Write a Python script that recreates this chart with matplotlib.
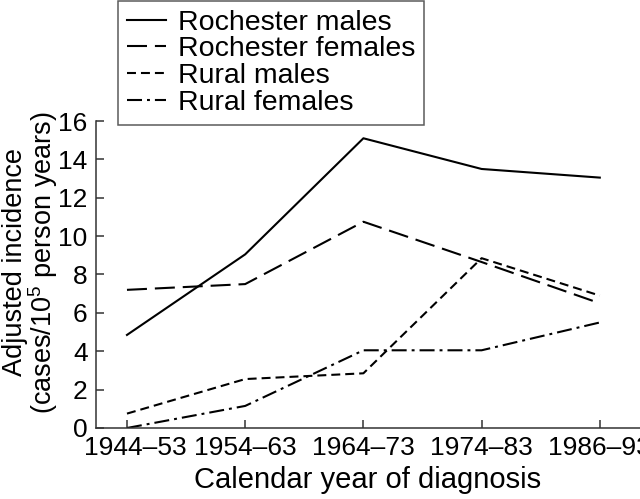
import matplotlib
matplotlib.use('Agg')
import matplotlib.pyplot as plt
from matplotlib.transforms import ScaledTranslation

plt.rcParams['font.family'] = ['Liberation Sans', 'DejaVu Sans']
plt.rcParams['mathtext.fontset'] = 'custom'
plt.rcParams['mathtext.rm'] = 'Liberation Sans'

periodos = ['1944–53', '1954–63', '1964–73', '1974–83', '1986–93']
rochester_hombres = [4.85, 9.05, 15.1, 13.5, 13.05]
rochester_mujeres = [7.2, 7.5, 10.75, 8.65, 6.5]
rural_hombres = [0.75, 2.55, 2.85, 8.85, 6.9]
rural_mujeres = [0.0, 1.15, 4.05, 4.05, 5.5]

fig = plt.figure(figsize=(6.4, 4.99), dpi=100)
ax = fig.add_axes([0.15, 0.1423, 0.85, 0.6152])

x = list(range(len(periodos)))
lw = 1.5
ax.plot(x, rochester_hombres, color='black', lw=lw, linestyle='-', label='Rochester males')
ax.plot(x, rochester_mujeres, color='black', lw=lw, linestyle=(0, (9.6, 3.8)), label='Rochester females')
ax.plot(x, rural_hombres, color='black', lw=lw, linestyle=(0, (4.3, 2.4)), label='Rural males')
ax.plot(x, rural_mujeres, color='black', lw=lw, linestyle=(0, (7.2, 2.4, 1.4, 2.4)), label='Rural females')

ax.set_xlim(-0.262, 4.34)
ax.set_ylim(0, 16)
ax.set_xticks(x)
ax.set_xticklabels(periodos)
ax.set_yticks(range(0, 17, 2))

for lado in ['top', 'right']:
    ax.spines[lado].set_visible(False)
for lado in ['left', 'bottom']:
    ax.spines[lado].set_color('#333333')
    ax.spines[lado].set_linewidth(1.1)
ax.tick_params(direction='in', length=6, width=1.1, color='#333333', labelsize=19, pad=6)

# la primera etiqueta va un poco a la derecha para no chocar con el 0
primera = ax.get_xticklabels()[0]
primera.set_transform(primera.get_transform() + ScaledTranslation(0.08, 0, fig.dpi_scale_trans))

ax.set_xlabel('Calendar year of diagnosis', fontsize=21, labelpad=4)
ax.set_ylabel('Adjusted incidence\n(cases/$\\mathregular{10^5}$ person years)', fontsize=19.5,
              linespacing=0.93)
ax.yaxis.set_label_coords(-0.067, 0.54)

leg = fig.legend(loc='upper left', bbox_to_anchor=(118 / 640, 1 - 1 / 499),
                 bbox_transform=fig.transFigure, fontsize=20.5, frameon=True, fancybox=False,
                 handlelength=1.4, handletextpad=0.4, borderpad=0.3, labelspacing=0.03,
                 borderaxespad=0)
leg.get_frame().set_edgecolor('#333333')
leg.get_frame().set_linewidth(1.1)

plt.savefig('out.png', dpi=100)
